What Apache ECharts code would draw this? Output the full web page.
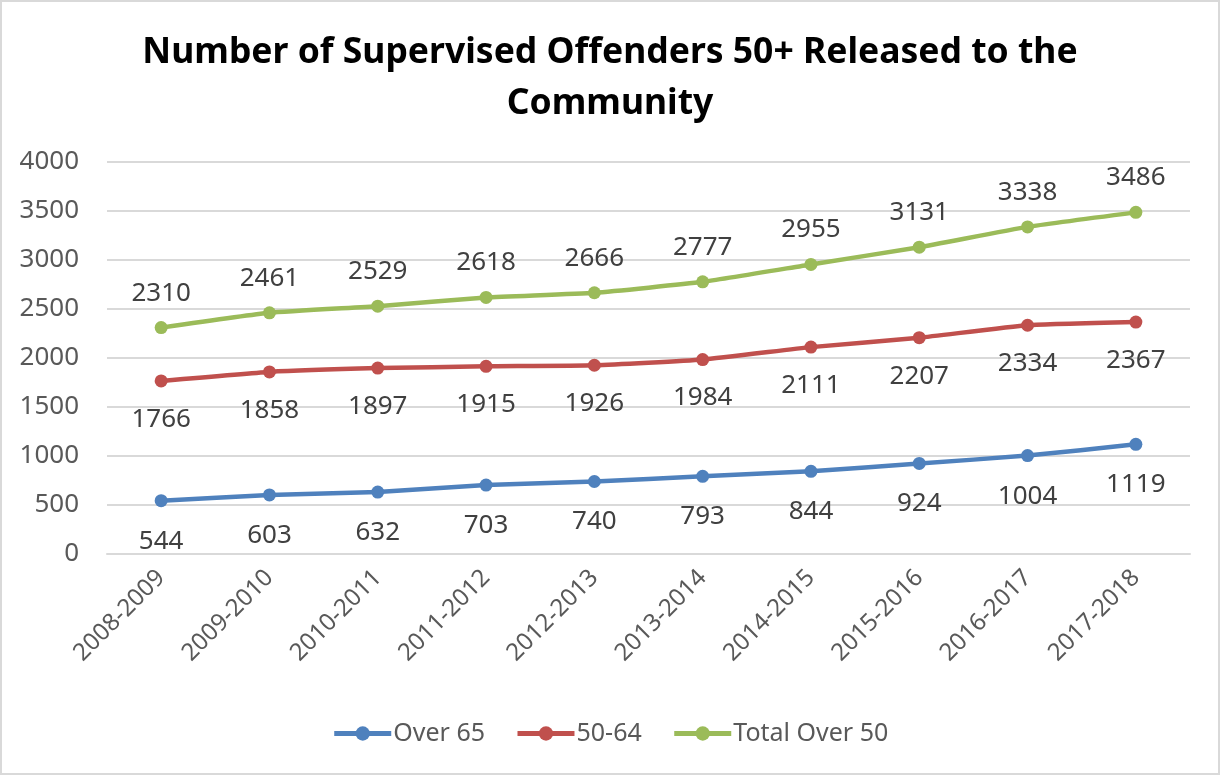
<!DOCTYPE html>
<html><head><meta charset="utf-8">
<script src="https://cdn.jsdelivr.net/npm/echarts@6/dist/echarts.min.js"></script>
<style>html,body{margin:0;padding:0;background:#fff;}#c{width:1220px;height:775px;box-sizing:border-box;border:2px solid #d9d9d9;}</style>
</head><body><div id="c"></div>
<script>
const categories = ['2008-2009','2009-2010','2010-2011','2011-2012','2012-2013','2013-2014','2014-2015','2015-2016','2016-2017','2017-2018'];
const over65 = [544,603,632,703,740,793,844,924,1004,1119];
const age50to64 = [1766,1858,1897,1915,1926,1984,2111,2207,2334,2367];
const totalOver50 = [2310,2461,2529,2618,2666,2777,2955,3131,3338,3486];
const yTicks = {min:0, max:4000, interval:500};

const FONT = 'Noto Sans';
const chart = echarts.init(document.getElementById('c'));
function ser(name, data, color, pos, dist){
  return {name, type:'line', data, smooth:0.15, symbol:'circle', symbolSize:13,
    itemStyle:{color}, lineStyle:{color, width:4.5},
    label:{show:true, position:pos, distance:dist, fontFamily:FONT, fontSize:26, color:'#404040'}};
}
chart.setOption({
  animation:false,
  title:{text:'Number of Supervised Offenders 50+ Released to the\nCommunity', left:'center', top:20,
    textStyle:{fontFamily:FONT, fontWeight:'bold', fontSize:35.5, color:'#000', lineHeight:51}},
  grid:{left:105, right:28, top:160, bottom:219},
  legend:{bottom:22, left:'center', itemWidth:57, itemHeight:18, itemGap:30,
    lineStyle:{width:5},
    textStyle:{fontFamily:FONT, fontSize:25, color:'#595959', padding:[0,0,0,-3]}},
  xAxis:{type:'category', data:categories, boundaryGap:true,
    axisLine:{lineStyle:{color:'#d9d9d9', width:2}}, axisTick:{show:false},
    axisLabel:{rotate:45, fontFamily:FONT, fontSize:24, color:'#595959', margin:20}},
  yAxis:{type:'value', min:yTicks.min, max:yTicks.max, interval:yTicks.interval,
    axisLine:{show:false}, axisTick:{show:false},
    splitLine:{lineStyle:{color:'#d9d9d9', width:2}},
    axisLabel:{fontFamily:FONT, fontSize:26, color:'#595959', margin:28, formatter:v=>String(v)}},
  series:[
    ser('Over 65', over65, '#4F81BD', 'bottom', 21),
    ser('50-64', age50to64, '#C0504D', 'bottom', 19),
    ser('Total Over 50', totalOver50, '#9BBB59', 'top', 15)
  ]
});
</script></body></html>
